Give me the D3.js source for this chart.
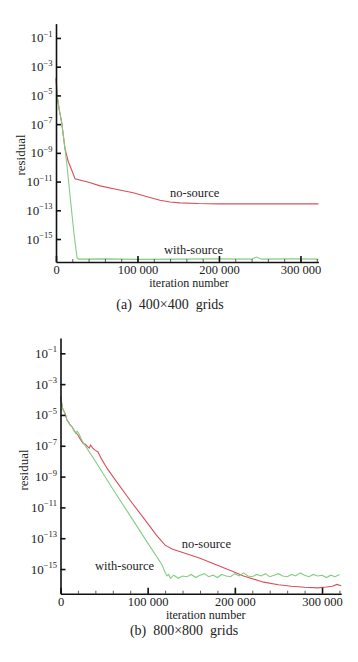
<!DOCTYPE html>
<html><head><meta charset="utf-8">
<script src="https://cdn.jsdelivr.net/npm/d3@7"></script>
<style>body{margin:0;background:#fff}svg{display:block}</style>
</head><body>
<script>
// ---------- shared tick data ----------
const xTickValues = [0, 100000, 200000, 300000];
const xTickLabels = ["0", "100 000", "200 000", "300 000"];
const xMinorTicks = d3.range(0, 322001, 20000);
const yTickExps = [-1, -3, -5, -7, -9, -11, -13, -15];
const seriesNames = ["no-source", "with-source"];
const captions = ["(a)  400×400  grids", "(b)  800×800  grids"];

// ---------- panel (a) 400x400 ----------
const redA_iter = [0,1600,4000,7000,11000,15000,20000,23300,40000,54000,75000,94800,112000,127600,140000,152000,175000,200000,250000,322000];
const redA_res  = [1.58e-4,7.94e-6,1e-6,1.26e-7,2.0e-9,2.51e-10,5.0e-11,1.58e-11,8.9e-12,5.0e-12,2.82e-12,1.66e-12,8.9e-13,5.0e-13,3.8e-13,3.3e-13,2.95e-13,2.82e-13,2.82e-13,2.82e-13];
const greenA_iter = [0,1600,4000,7000,11000,13500,17800,22000,25800,27500,60000,100000,150000,200000,240000,246000,252000,290000,322000];
const greenA_res  = [1.58e-4,7.94e-6,1e-6,1.26e-7,2.0e-9,1.26e-10,5.0e-13,2.51e-15,5.0e-17,3.98e-17,4.17e-17,3.8e-17,3.98e-17,4.17e-17,3.98e-17,5.62e-17,3.98e-17,4.17e-17,3.98e-17];

// ---------- panel (b) 800x800 ----------
const redB_iter = [0,2500,5200,7500,9000,11000,13000,16000,20000,23000,26000,28500,31000,33000,34500,37000,40000,43000,47000,53500,63000,80000,103000,110000,120000,128000,137600,160000,180000,195000,210000,233000,250000,265000,280000,295000,305000,312000,317000,322000];
const redB_res  = [1.58e-4,2.51e-5,1.26e-5,4.47e-6,3.55e-6,2.24e-6,1.78e-6,8.9e-7,5.0e-7,2.51e-7,1.41e-7,1.26e-7,8.9e-8,7.08e-8,1.12e-7,7.08e-8,5.0e-8,3.98e-8,1.41e-8,3.39e-9,5.89e-10,2.82e-11,5.5e-13,1.58e-13,3.55e-14,2.0e-14,1.32e-14,5.0e-15,1.78e-15,7.94e-16,3.55e-16,1.41e-16,9.55e-17,7.59e-17,6.61e-17,6.03e-17,6.76e-17,7.59e-17,1.0e-16,8.32e-17];
const greenB_iter = [0,2500,5200,7500,9000,11000,13000,16000,17500,19000,21000,25000,40000,60000,80000,100000,116600,119000,122000,124000,126000,
  130000,135000,140000,145000,150000,155000,160000,165000,170000,175000,180000,185000,190000,195000,200000,205000,210000,215000,220000,225000,230000,235000,240000,245000,250000,255000,260000,265000,270000,275000,280000,285000,290000,295000,300000,305000,310000,315000,320000];
const greenB_res  = [1.58e-4,2.51e-5,1.26e-5,4.47e-6,3.55e-6,2.24e-6,1.78e-6,8.9e-7,6.31e-7,8.9e-7,6.31e-7,2.0e-7,1e-8,1.58e-10,2.82e-12,5.0e-14,1.82e-15,7.94e-16,3.55e-16,4.47e-16,2.51e-16,
  3.98e-16,2.51e-16,3.55e-16,3.16e-16,4.47e-16,2.82e-16,3.98e-16,5.01e-16,3.16e-16,3.98e-16,2.82e-16,4.47e-16,3.55e-16,3.16e-16,5.01e-16,3.55e-16,5.62e-16,3.55e-16,3.16e-16,4.47e-16,3.55e-16,5.01e-16,3.16e-16,3.98e-16,5.01e-16,3.55e-16,3.16e-16,4.47e-16,3.55e-16,5.62e-16,3.98e-16,3.16e-16,4.47e-16,3.55e-16,3.98e-16,2.82e-16,3.98e-16,3.16e-16,4.47e-16];

const RED = "#d5505c", GREEN = "#84cc84";
const FONT = "'Liberation Serif', 'Times New Roman', Times, 'DejaVu Serif', serif";

const svg = d3.select("body").append("svg").attr("width", 358).attr("height", 662)
  .attr("font-family", FONT).style("font-family", FONT);

const panels = [
  { x0: 56, x1: 318.4, yTop: 23.6, yBot: 262, red: [redA_iter, redA_res], green: [greenA_iter, greenA_res],
    caption: captions[0], xTitle: [189, 286.5], yTitle: [25, 155], capPos: [170, 309],
    noSrc: [140000, 8.5e-13], withSrc: [132500, 8.9e-17] },
  { x0: 60.5, x1: 341.2, yTop: 337.9, yBot: 593.7, red: [redB_iter, redB_res], green: [greenB_iter, greenB_res],
    caption: captions[1], xTitle: [205.7, 618.5], yTitle: [28, 470], capPos: [184, 635],
    noSrc: [139000, 2.4e-14], withSrc: [39600, 8.7e-16] }
];

function txt(sel) { return sel.style("font-family", FONT).attr("fill", "#222"); }

panels.forEach(p => {
  const x = d3.scaleLinear().domain([0, 322000]).range([p.x0, p.x1]);
  const y = d3.scaleLog().domain([Math.pow(10, -16.6), 1]).range([p.yBot, p.yTop]);
  const g = svg.append("g");

  const line = d3.line().x(d => x(d[0])).y(d => y(d[1]));
  const toPts = s => s[0].map((v, i) => [v, s[1][i]]);
  g.append("path").attr("d", line(toPts(p.red))).attr("fill", "none").attr("stroke", RED).attr("stroke-width", 1.1);
  g.append("path").attr("d", line(toPts(p.green))).attr("fill", "none").attr("stroke", GREEN).attr("stroke-width", 1.1);

  // x minor ticks
  g.append("g").attr("transform", `translate(0,${p.yBot})`)
    .call(d3.axisBottom(x).tickValues(xMinorTicks).tickFormat("").tickSizeInner(-3).tickSizeOuter(0))
    .call(s => { s.select(".domain").remove(); s.selectAll("line").attr("stroke", "#333").attr("stroke-width", 0.8); });
  // x major axis
  g.append("g").attr("transform", `translate(0,${p.yBot})`)
    .call(d3.axisBottom(x).tickValues(xTickValues).tickFormat((d, i) => xTickLabels[i]).tickSizeInner(-6).tickSizeOuter(0).tickPadding(3))
    .call(s => {
      s.attr("font-family", null);
      s.select(".domain").attr("stroke", "#111").attr("stroke-width", 1.6);
      s.selectAll("line").attr("stroke", "#111").attr("stroke-width", 1.6);
      txt(s.selectAll("text")).attr("font-size", 12.5);
    });
  // y axis
  g.append("g").attr("transform", `translate(${p.x0},0)`)
    .call(d3.axisLeft(y).tickValues(yTickExps.map(e => Math.pow(10, e))).tickFormat("").tickSizeInner(-5).tickSizeOuter(0))
    .call(s => {
      s.attr("font-family", null);
      s.select(".domain").attr("stroke", "#111").attr("stroke-width", 1.6);
      s.selectAll("line").attr("stroke", "#111").attr("stroke-width", 1.6);
    });
  yTickExps.forEach(e => {
    const t = txt(g.append("text")).attr("x", p.x0 - 3.5).attr("y", y(Math.pow(10, e)) + 4.5)
      .attr("text-anchor", "end").attr("font-size", 13);
    t.append("tspan").text("10");
    t.append("tspan").attr("font-size", 8.5).attr("dy", -5.5).text("−" + (-e));
  });

  // series labels
  txt(g.append("text")).attr("x", x(p.noSrc[0])).attr("y", y(p.noSrc[1])).attr("font-size", 12.5).text(seriesNames[0]);
  txt(g.append("text")).attr("x", x(p.withSrc[0])).attr("y", y(p.withSrc[1])).attr("font-size", 12.5).text(seriesNames[1]);

  // titles
  txt(g.append("text")).attr("x", p.xTitle[0]).attr("y", p.xTitle[1]).attr("text-anchor", "middle").attr("font-size", 12).text("iteration number");
  txt(g.append("text")).attr("transform", `translate(${p.yTitle[0]},${p.yTitle[1]}) rotate(-90)`).attr("text-anchor", "middle")
    .attr("font-size", 13).text("residual");
  txt(g.append("text")).attr("x", p.capPos[0]).attr("y", p.capPos[1]).attr("text-anchor", "middle").attr("font-size", 14)
    .style("white-space", "pre").attr("xml:space", "preserve").text(p.caption);
});
</script>
</body></html>
